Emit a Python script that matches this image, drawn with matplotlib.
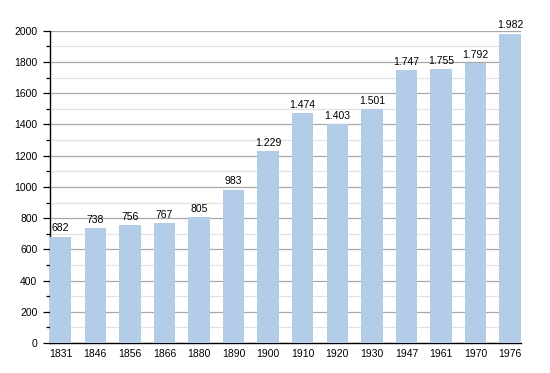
import matplotlib
matplotlib.use("Agg")
import matplotlib.pyplot as plt
from matplotlib.ticker import MultipleLocator

# Datos de población
anios = ["1831", "1846", "1856", "1866", "1880", "1890", "1900",
         "1910", "1920", "1930", "1947", "1961", "1970", "1976"]
poblacion = [682, 738, 756, 767, 805, 983, 1229,
             1474, 1403, 1501, 1747, 1755, 1792, 1982]

plt.rcParams['font.family'] = ['Liberation Sans', 'DejaVu Sans']

fig = plt.figure(figsize=(5.5, 3.73), dpi=100)
ax = fig.add_axes([0.0909, 0.0804, 0.856, 0.837])

ancho = 0.62
x = range(len(anios))
ax.bar(x, poblacion, width=ancho, color='#b3cde8', zorder=3)

# Etiquetas con separador de miles "."
for xi, v in zip(x, poblacion):
    etiqueta = f"{v:,}".replace(",", ".")
    ax.text(xi, v + 20, etiqueta, ha='center', va='bottom', fontsize=7.5, zorder=4)

ax.set_xlim(-ancho / 2, len(anios) - 1 + ancho / 2)
ax.set_ylim(0, 2000)
ax.set_xticks(list(x))
ax.set_xticklabels(anios)
ax.yaxis.set_major_locator(MultipleLocator(200))
ax.yaxis.set_minor_locator(MultipleLocator(100))

ax.grid(axis='y', which='major', color='#a8a8a8', linewidth=0.9, zorder=0)
ax.grid(axis='y', which='minor', color='#e2e2e2', linewidth=0.9, zorder=0)

for lado in ['top', 'right']:
    ax.spines[lado].set_visible(False)
ax.spines['left'].set_linewidth(1.0)
ax.spines['bottom'].set_linewidth(1.0)

ax.tick_params(axis='y', which='major', length=5, width=0.9, labelsize=7.5, pad=4)
ax.tick_params(axis='y', which='minor', length=3, width=0.9)
ax.tick_params(axis='x', length=0, labelsize=7.5, pad=4)

fig.savefig("out.png", dpi=100)
